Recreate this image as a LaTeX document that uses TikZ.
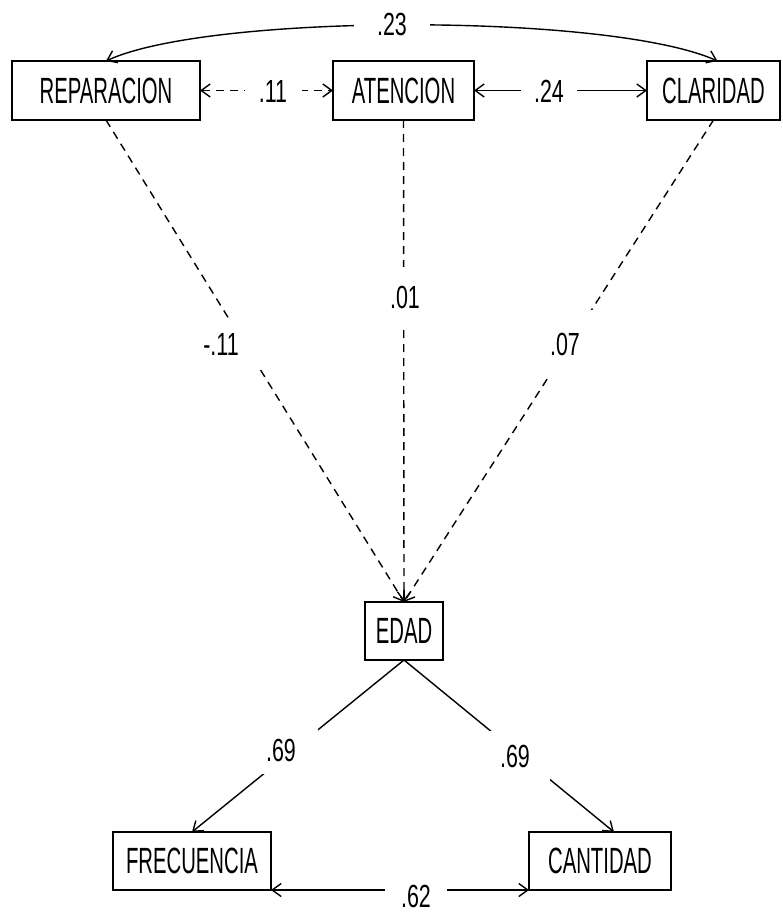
\documentclass[tikz,border=0pt]{standalone}
\usepackage{fontspec}
\newfontfamily\boxfont{Liberation Sans}[FakeStretch=0.556]
\newfontfamily\numfont{Liberation Sans}[FakeStretch=0.67]
\usetikzlibrary{arrows.meta,calc}
\begin{document}
\begin{tikzpicture}[x=1pt,y=-1pt,
 var/.style={draw, line width=1.7pt, inner sep=0pt, outer sep=0pt, font=\boxfont\fontsize{36.5}{40}\selectfont},
 con/.style={line width=1.4pt},
 tip/.style={-{Straight Barb[length=9pt,width=13pt]}},
 tips/.style={{Straight Barb[length=9pt,width=13pt]}-{Straight Barb[length=9pt,width=13pt]}},
 dsh/.style={dash pattern=on 8pt off 6pt},
 lab/.style={fill=white, inner sep=0pt, font=\numfont\fontsize{32}{36}\selectfont}]
\useasboundingbox[fill=white] (0,0) rectangle (782,915);
% variables
\node[var, minimum width=188pt, minimum height=59pt] (REP) at (106,90.5) {REPARACION};
\node[var, minimum width=141pt, minimum height=59pt] (ATE) at (403.5,90.5) {ATENCION};
\node[var, minimum width=133pt, minimum height=59pt] (CLA) at (713.5,90.5) {CLARIDAD};
\node[var, minimum width=78pt, minimum height=58pt] (EDA) at (404,631) {EDAD};
\node[var, minimum width=158pt, minimum height=58pt] (FRE) at (192,861) {FRECUENCIA};
\node[var, minimum width=142pt, minimum height=58pt] (CAN) at (600,861) {CANTIDAD};
% connectors
\draw[con,tips] (REP.north) .. controls (210,13) and (610,13) .. ($(CLA.north)+(4,0)$);
\draw[con,tips,dsh] (REP.east) -- (ATE.west);
\draw[con,tips] (ATE.east) -- (CLA.west);
\draw[con,tip,dsh] (REP.south) -- (EDA.north);
\draw[con,tip,dsh] (ATE.south) -- (EDA.north);
\draw[con,tip,dsh] (CLA.south) -- (EDA.north);
\draw[con,tip] (EDA.south) -- (FRE.north);
\draw[con,tip] (EDA.south) -- ($(CAN.north)+(14,0)$);
\draw[con,tips] (FRE.south east) -- (CAN.south west);
% labels
\node[lab, minimum width=76pt, minimum height=30pt] (L23) at (392,24) {.23};
\node[lab, minimum width=57pt, minimum height=30pt] (L11) at (273,91) {.11};
\node[lab, minimum width=56pt, minimum height=30pt] (L24) at (549,91) {.24};
\node[lab, minimum width=40pt, minimum height=60pt] (L01) at (405,297) {.01};
\node[lab, minimum width=80pt, minimum height=47pt] (Lm11) at (221,344) {-.11};
\node[lab, minimum width=56pt, minimum height=68pt] (L07) at (565,344) {.07};
\node[lab, minimum width=74pt, minimum height=48pt] (L69a) at (281,750) {.69};
\node[lab, minimum width=70pt, minimum height=50pt] (L69b) at (515,756) {.69};
\node[lab, minimum width=62pt, minimum height=26pt] (L62) at (416,896) {.62};
\end{tikzpicture}
\end{document}
